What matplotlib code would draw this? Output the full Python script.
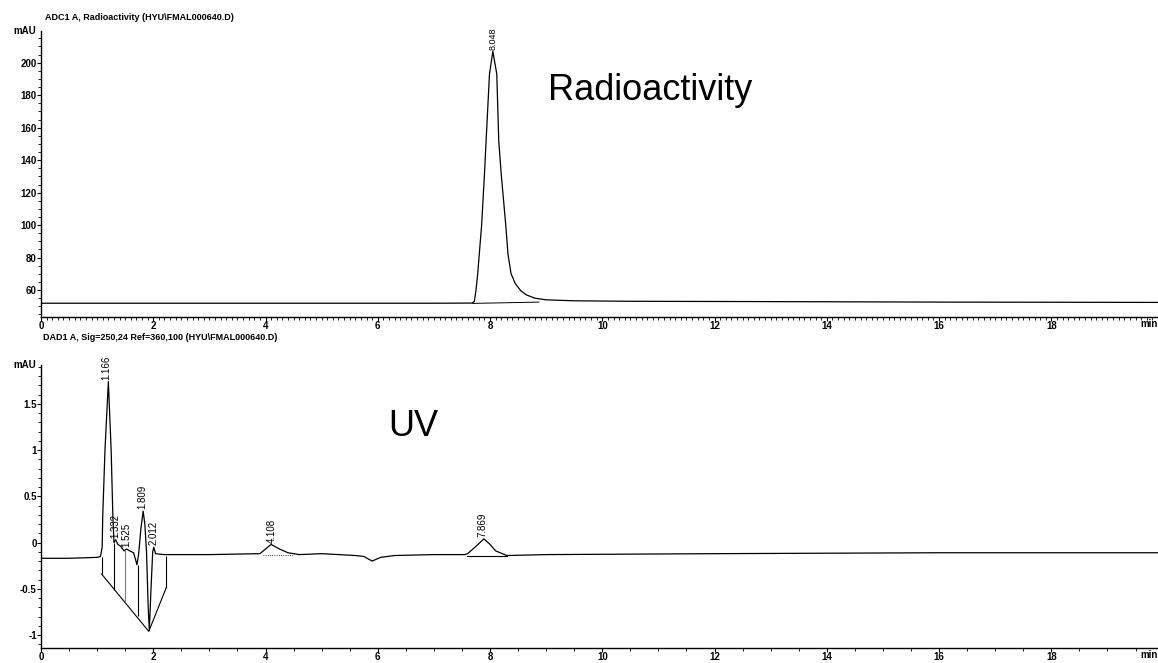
import matplotlib.pyplot as plt
from matplotlib.ticker import MultipleLocator

plt.rcParams['font.family'] = ['Liberation Sans', 'DejaVu Sans']

# --- Radioactivity trace (ADC1 A) ---
rad_time = [0.0, 3.0, 7.0, 7.68, 7.72, 7.75, 7.78, 7.85, 7.90, 7.93, 7.99, 8.05,
            8.12, 8.155, 8.20, 8.28, 8.32, 8.375, 8.45, 8.55, 8.65, 8.8, 9.0,
            9.5, 10.5, 13.0, 16.0, 20.0]
rad_signal = [51.9, 51.9, 51.9, 52.0, 53.0, 60.0, 70.0, 100.0, 131.0, 152.0, 193.0, 207.0,
              193.0, 152.0, 131.0, 100.0, 82.0, 70.0, 64.0, 59.5, 57.0, 55.0, 54.0,
              53.4, 53.1, 52.9, 52.6, 52.4]
rad_peak_time = [8.048]
rad_peak_height = [207.0]
rad_peak_label = ["8.048"]
rad_base_time = [7.69, 8.87]
rad_base_value = [51.8, 52.6]

# --- UV trace (DAD1 A) ---
uv_time = [0.0, 0.5, 1.0, 1.06, 1.09, 1.10, 1.14, 1.20, 1.25, 1.28, 1.30, 1.33,
           1.37, 1.42, 1.48, 1.525, 1.58, 1.65, 1.71, 1.74, 1.78, 1.82, 1.85, 1.88,
           1.91, 1.93, 1.96, 1.99, 2.01, 2.04, 2.2, 3.0, 3.9, 3.96, 4.0, 4.1,
           4.25, 4.4, 4.6, 5.0, 5.6, 5.75, 5.9, 6.05, 6.3, 7.0, 7.55, 7.6,
           7.75, 7.89, 8.0, 8.1, 8.3, 9.0, 12.0, 16.0, 20.0]
uv_signal = [-0.17, -0.17, -0.16, -0.15, -0.05, 0.29, 1.0, 1.74, 1.0, 0.29, 0.0, 0.03,
             -0.02, -0.04, -0.09, -0.07, -0.09, -0.11, -0.24, -0.12, 0.15, 0.34, 0.2, -0.1,
             -0.7, -0.95, -0.5, -0.1, -0.05, -0.12, -0.13, -0.13, -0.12, -0.09, -0.07, -0.02,
             -0.07, -0.11, -0.13, -0.12, -0.14, -0.15, -0.2, -0.16, -0.14, -0.13, -0.13, -0.12,
             -0.04, 0.04, -0.02, -0.09, -0.14, -0.13, -0.12, -0.11, -0.11]
uv_peak_time = [1.166, 1.332, 1.525, 1.809, 2.012, 4.108, 7.869]
uv_peak_height = [1.74, 0.03, -0.07, 0.34, -0.05, -0.02, 0.04]
uv_peak_label = ["1.166", "1.332", "1.525", "1.809", "2.012", "4.108", "7.869"]

# integration baselines and drop lines
uv_base_time = [1.08, 1.92, 2.23]
uv_base_value = [-0.34, -0.96, -0.49]
uv_drop_time = [1.08, 1.30, 1.50, 1.73, 2.23]
uv_drop_top = [-0.16, 0.0, -0.08, -0.24, -0.14]
uv_drop_bottom = [-0.34, -0.51, -0.64, -0.79, -0.49]
uv_drop_color = ['black', 'black', 'grey', 'black', 'black']
uv_base2_time = [3.96, 4.5]
uv_base2_value = [-0.13, -0.13]
uv_base3_time = [7.59, 8.30]
uv_base3_value = [-0.15, -0.15]

fig = plt.figure(figsize=(11.58, 6.63), dpi=100)
ax1 = fig.add_axes([0.0354, 0.5223, 0.9646, 0.4309])
ax2 = fig.add_axes([0.0354, 0.0226, 0.9646, 0.4269])


def style_axis(ax, ylim, ymajor, yminor, xminor):
    ax.set_xlim(0, 19.9)
    ax.set_ylim(*ylim)
    for s in ['top', 'right']:
        ax.spines[s].set_visible(False)
    for s in ['left', 'bottom']:
        ax.spines[s].set_linewidth(1.0)
    ax.xaxis.set_major_locator(MultipleLocator(2))
    ax.xaxis.set_minor_locator(MultipleLocator(xminor))
    ax.yaxis.set_major_locator(MultipleLocator(ymajor))
    ax.yaxis.set_minor_locator(MultipleLocator(yminor))
    ax.tick_params(which='major', length=3, width=0.8, labelsize=7, pad=0)
    ax.tick_params(which='minor', length=2, width=0.6)
    ax.text(-0.004, 1.0, "mAU", transform=ax.transAxes, ha='right', va='center',
            fontsize=7, fontweight='bold')
    ax.text(1.0, -0.025, "min", transform=ax.transAxes, ha='right', va='center',
            fontsize=7, fontweight='bold')


# top panel
ax1.plot(rad_time, rad_signal, color='black', lw=0.9)
ax1.plot(rad_base_time, rad_base_value, color='black', lw=0.7)
for t, h, lab in zip(rad_peak_time, rad_peak_height, rad_peak_label):
    ax1.text(t, h + 1, lab, rotation=90, ha='center', va='bottom', fontsize=6.5)
style_axis(ax1, (43.6, 219.5), 20, 5, 0.1)
yt1 = [60, 80, 100, 120, 140, 160, 180, 200]
ax1.set_yticks(yt1)
ax1.set_yticklabels([str(v) for v in yt1], fontweight='bold')
ax1.set_xticks(range(0, 20, 2))
ax1.set_xticklabels([str(v) for v in range(0, 20, 2)], fontweight='bold')
ax1.text(9.04, 183, "Radioactivity", fontsize=26, ha='left', va='center')

# bottom panel
ax2.plot(uv_time, uv_signal, color='black', lw=0.9)
ax2.plot(uv_base_time, uv_base_value, color='black', lw=0.8)
ax2.vlines(uv_drop_time, uv_drop_bottom, uv_drop_top, colors=uv_drop_color, lw=0.8)
ax2.plot(uv_base2_time, uv_base2_value, color='black', lw=0.6, ls=':')
ax2.plot(uv_base3_time, uv_base3_value, color='black', lw=0.8)
for t, h, lab in zip(uv_peak_time, uv_peak_height, uv_peak_label):
    ax2.text(t, h + 0.02, lab, rotation=90, ha='center', va='bottom', fontsize=7)
style_axis(ax2, (-1.14, 1.92), 0.5, 0.1, 0.5)
yt2 = [-1, -0.5, 0, 0.5, 1, 1.5]
ax2.set_yticks(yt2)
ax2.set_yticklabels(["-1", "-0.5", "0", "0.5", "1", "1.5"], fontweight='bold')
ax2.set_xticks(range(0, 20, 2))
ax2.set_xticklabels([str(v) for v in range(0, 20, 2)], fontweight='bold')
ax2.text(6.19, 1.25, "UV", fontsize=26, ha='left', va='center')

fig.text(45 / 1158, 1 - 17 / 663, "ADC1 A, Radioactivity (HYU\\FMAL000640.D)",
         fontsize=6.5, fontweight='bold', va='center', ha='left')
fig.text(43 / 1158, 1 - 338 / 663, "DAD1 A, Sig=250,24 Ref=360,100 (HYU\\FMAL000640.D)",
         fontsize=6.5, fontweight='bold', va='center', ha='left')

fig.savefig("out.png", dpi=100)
